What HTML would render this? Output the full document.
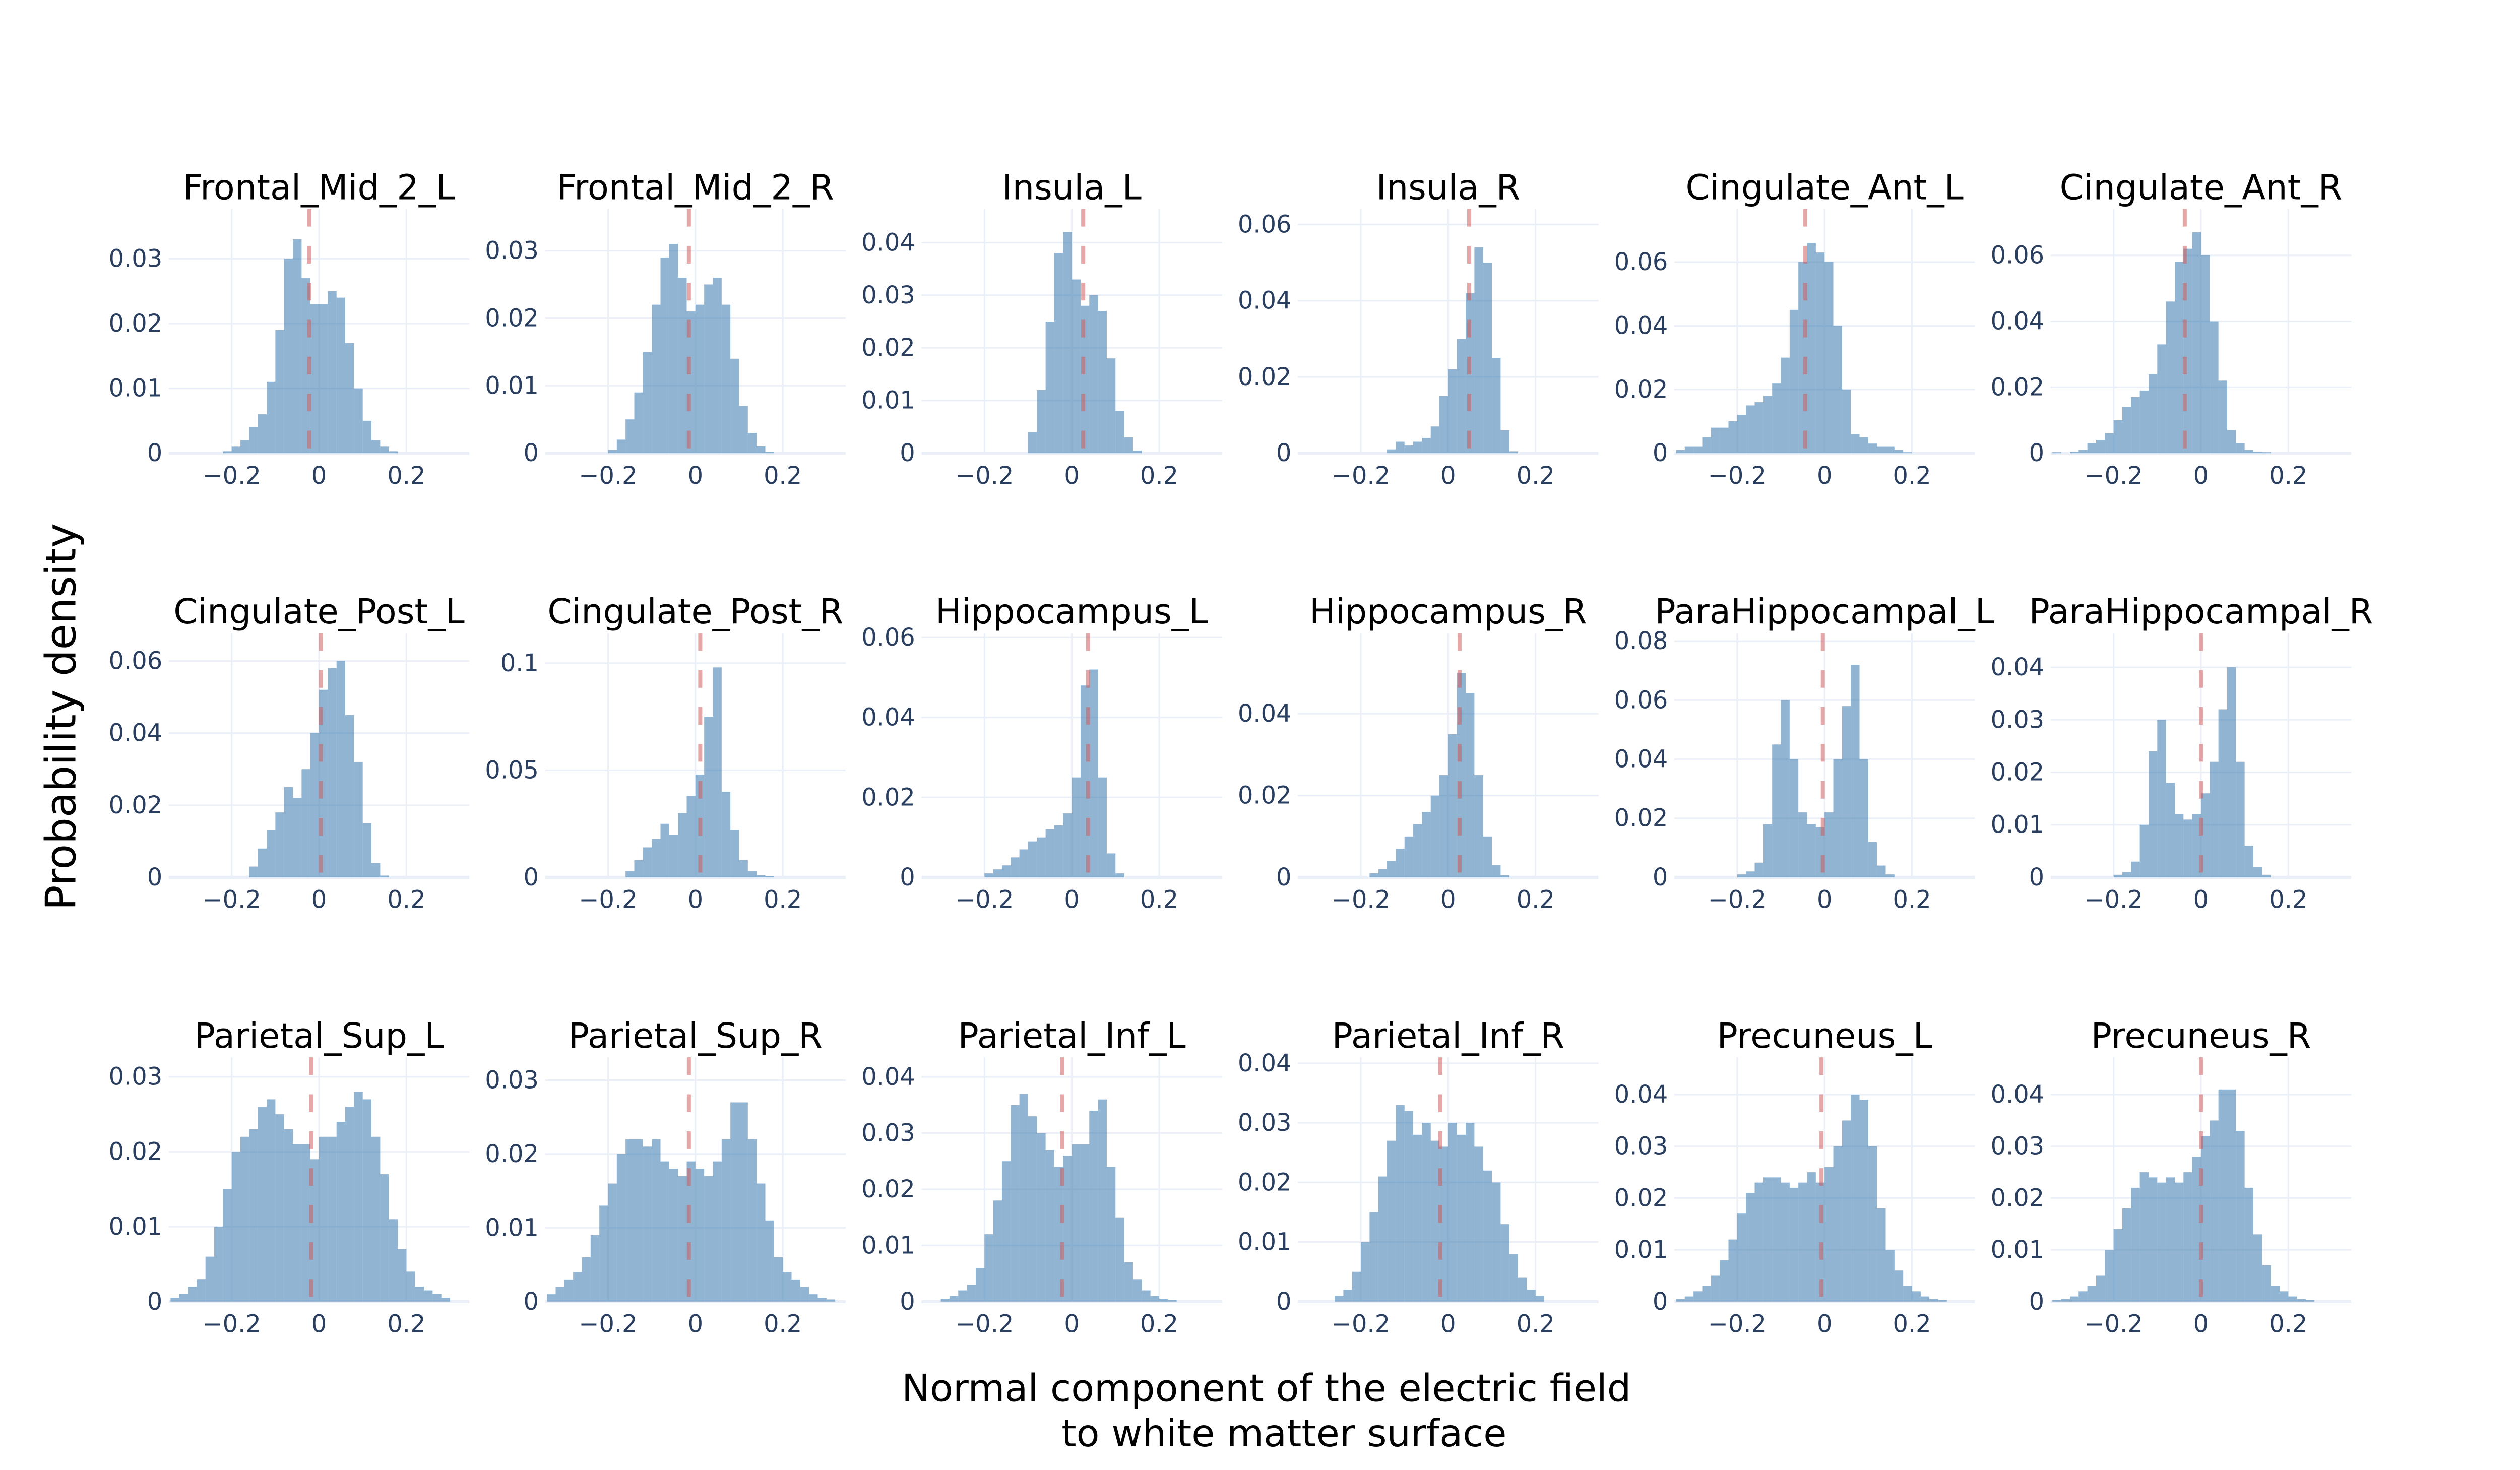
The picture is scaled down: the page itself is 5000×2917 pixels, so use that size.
<!DOCTYPE html>
<html><head><meta charset="utf-8"><style>
html,body{margin:0;padding:0;background:#fff;}
svg{display:block;}
text{font-family:"DejaVu Sans","Liberation Sans",sans-serif;}
</style></head>
<body>
<svg id="chart" width="5000" height="2917" viewBox="0 0 1568 914.8" xmlns="http://www.w3.org/2000/svg">
<rect width="1568" height="914.8" fill="#fff"/>
<text x="38" y="446" transform="rotate(-90 38 446)" text-anchor="middle" dominant-baseline="central" font-size="26" fill="#000">Probability density</text>
<text x="788" y="872" text-anchor="middle" font-size="23.5" fill="#000">Normal component of the electric field</text>
<text x="799" y="900" text-anchor="middle" font-size="23.5" fill="#000">to white matter surface</text>
<g id="panels"></g>
</svg>
<script>
const regionNames = ["Frontal_Mid_2_L","Frontal_Mid_2_R","Insula_L","Insula_R","Cingulate_Ant_L","Cingulate_Ant_R","Cingulate_Post_L","Cingulate_Post_R","Hippocampus_L","Hippocampus_R","ParaHippocampal_L","ParaHippocampal_R","Parietal_Sup_L","Parietal_Sup_R","Parietal_Inf_L","Parietal_Inf_R","Precuneus_L","Precuneus_R"];
const binStart = -0.34;
const binWidth = 0.02;
const density01 = [0,0,0,0,0,0,0.0003,0.001,0.002,0.004,0.006,0.011,0.019,0.030,0.033,0.027,0.023,0.023,0.025,0.024,0.017,0.010,0.005,0.002,0.001,0.0003,0,0,0,0,0,0,0,0];
const density02 = [0,0,0,0,0,0,0,0.0005,0.002,0.005,0.009,0.015,0.022,0.029,0.031,0.026,0.021,0.022,0.025,0.026,0.022,0.014,0.007,0.003,0.001,0.0002,0,0,0,0,0,0,0,0];
const density03 = [0,0,0,0,0,0,0,0,0,0,0,0,0.004,0.012,0.025,0.038,0.042,0.033,0.028,0.030,0.027,0.018,0.008,0.003,0.0005,0,0,0,0,0,0,0,0,0];
const density04 = [0,0,0,0,0,0,0,0,0,0,0.001,0.003,0.002,0.003,0.004,0.007,0.015,0.022,0.030,0.042,0.054,0.050,0.025,0.006,0.0005,0,0,0,0,0,0,0,0,0];
const density05 = [0.001,0.002,0.002,0.005,0.008,0.008,0.010,0.012,0.015,0.016,0.018,0.022,0.030,0.045,0.060,0.066,0.063,0.060,0.040,0.020,0.006,0.005,0.003,0.002,0.002,0.001,0.0003,0,0,0,0,0,0,0];
const density06 = [0.0003,0,0.0005,0.001,0.003,0.004,0.006,0.010,0.014,0.017,0.019,0.024,0.033,0.046,0.058,0.062,0.067,0.060,0.040,0.022,0.007,0.003,0.001,0.0005,0.0003,0,0,0,0,0,0,0,0,0];
const density07 = [0,0,0,0,0,0,0,0,0,0.003,0.008,0.013,0.018,0.025,0.022,0.030,0.040,0.052,0.058,0.060,0.045,0.032,0.015,0.004,0.0005,0,0,0,0,0,0,0,0,0];
const density08 = [0,0,0,0,0,0,0,0,0,0.003,0.008,0.014,0.018,0.025,0.020,0.030,0.038,0.048,0.075,0.098,0.040,0.022,0.008,0.003,0.001,0.0005,0,0,0,0,0,0,0,0];
const density09 = [0,0,0,0,0,0,0,0.001,0.002,0.003,0.005,0.007,0.009,0.010,0.012,0.013,0.016,0.025,0.048,0.052,0.025,0.006,0.001,0,0,0,0,0,0,0,0,0,0,0];
const density10 = [0,0,0,0,0,0,0,0,0.001,0.002,0.004,0.007,0.010,0.013,0.016,0.020,0.025,0.035,0.050,0.045,0.025,0.010,0.003,0.0005,0,0,0,0,0,0,0,0,0,0];
const density11 = [0,0,0,0,0,0,0,0.001,0.002,0.005,0.018,0.045,0.060,0.040,0.022,0.018,0.017,0.022,0.040,0.058,0.072,0.040,0.012,0.004,0.001,0,0,0,0,0,0,0,0,0];
const density12 = [0,0,0,0,0,0,0,0.0005,0.001,0.003,0.010,0.024,0.030,0.018,0.012,0.011,0.012,0.016,0.022,0.032,0.040,0.022,0.006,0.002,0.0005,0,0,0,0,0,0,0,0,0];
const density13 = [0.0005,0.001,0.002,0.003,0.006,0.010,0.015,0.020,0.022,0.023,0.026,0.027,0.025,0.023,0.021,0.021,0.019,0.022,0.022,0.024,0.026,0.028,0.027,0.022,0.017,0.011,0.007,0.004,0.002,0.0015,0.001,0.0005,0,0];
const density14 = [0.001,0.002,0.003,0.004,0.006,0.009,0.013,0.016,0.020,0.022,0.022,0.021,0.022,0.019,0.018,0.017,0.019,0.018,0.017,0.019,0.022,0.027,0.027,0.022,0.016,0.011,0.006,0.004,0.003,0.002,0.001,0.0005,0.0003,0];
const density15 = [0,0,0.0005,0.001,0.002,0.003,0.006,0.012,0.018,0.025,0.035,0.037,0.033,0.030,0.027,0.024,0.026,0.028,0.028,0.034,0.036,0.024,0.015,0.007,0.004,0.002,0.001,0.0005,0.0003,0,0,0,0,0];
const density16 = [0,0,0,0,0.001,0.002,0.005,0.010,0.015,0.021,0.027,0.033,0.032,0.028,0.030,0.027,0.026,0.030,0.028,0.030,0.026,0.022,0.020,0.013,0.008,0.004,0.002,0.001,0,0,0,0,0,0];
const density17 = [0.0005,0.001,0.002,0.003,0.005,0.008,0.012,0.017,0.021,0.023,0.024,0.024,0.023,0.022,0.023,0.025,0.023,0.026,0.030,0.035,0.040,0.039,0.030,0.018,0.010,0.006,0.003,0.002,0.001,0.0005,0.0003,0,0,0];
const density18 = [0.0003,0.0005,0.001,0.002,0.003,0.005,0.010,0.014,0.018,0.022,0.025,0.024,0.023,0.024,0.023,0.025,0.028,0.032,0.035,0.041,0.041,0.033,0.022,0.013,0.007,0.003,0.002,0.001,0.0005,0.0003,0,0,0,0];
const meanValues = [-0.022,-0.015,0.026,0.048,-0.044,-0.037,0.004,0.011,0.037,0.026,-0.004,0,-0.018,-0.015,-0.022,-0.018,-0.007,0];
const yMaxValues = [0.0377,0.0362,0.0464,0.0641,0.0767,0.0741,0.0677,0.114,0.0611,0.0597,0.0827,0.0465,0.0326,0.0331,0.0435,0.041,0.0472,0.0472];
const yTicksA = [0,0.01,0.02,0.03];
const yTicksB = [0,0.01,0.02,0.03,0.04];
const yTicksC = [0,0.02,0.04,0.06];
const yTicksD = [0,0.02,0.04,0.06,0.08];
const yTicksE = [0,0.05,0.1];
const yTicksF = [0,0.02,0.04];
const xTicks = [-0.2,0,0.2];
const xTickLabels = ["\u22120.2","0","0.2"];

const densities = [density01,density02,density03,density04,density05,density06,density07,density08,density09,density10,density11,density12,density13,density14,density15,density16,density17,density18];
const yTicksPerPanel = [yTicksA,yTicksA,yTicksB,yTicksC,yTicksC,yTicksC,yTicksC,yTicksE,yTicksC,yTicksF,yTicksD,yTicksB,yTicksA,yTicksA,yTicksB,yTicksB,yTicksB,yTicksB];

const NS = "http://www.w3.org/2000/svg";
const root = document.getElementById('panels');
const colLeft = [105,339.2,573.4,807.6,1041.8,1276];
const rowBottom = [282,546,810];
const plotW = 187, plotH = 152, xMin = -0.344, xMax = 0.344;
function mk(tag, attrs, parent){const e=document.createElementNS(NS,tag);for(const k in attrs)e.setAttribute(k,attrs[k]);parent.appendChild(e);return e;}
function fmt(v){return v===0?"0":String(v);}

for(let p=0;p<18;p++){
  const c=p%6, r=Math.floor(p/6);
  const x0=colLeft[c], yb=rowBottom[r], yt=yb-plotH;
  const ymax=yMaxValues[p];
  const sx=v=>x0+(v-xMin)/(xMax-xMin)*plotW;
  const sy=v=>yb-v/ymax*plotH;
  const g=mk('g',{},root);
  
  
  xTicks.forEach((t,i)=>{
    const l=mk('line',{x1:sx(t),x2:sx(t),y1:yt,y2:yb,stroke:'#ebf0f8','stroke-width':1},g);
    
    
    const tx=mk('text',{x:sx(t),y:yb+19,'text-anchor':'middle','font-size':15,fill:'#2a3f5f'},g);
    
    
    tx.textContent=xTickLabels[i];
  });
  yTicksPerPanel[p].forEach(t=>{
    const l=mk('line',{x1:x0,x2:x0+plotW,y1:sy(t),y2:sy(t),stroke:'#ebf0f8','stroke-width':t===0?2:1},g);
    
    
    const tx=mk('text',{x:x0-4,y:sy(t)+5,'text-anchor':'end','font-size':15,fill:'#2a3f5f'},g);
    
    
    tx.textContent=fmt(t);
  });
  densities[p].forEach((v,i)=>{
    if(v<=0)return;
    const a=binStart+i*binWidth, b=a+binWidth;
    const xa=Math.max(sx(a),x0), xb=Math.min(sx(b),x0+plotW);
    const bar=mk('rect',{x:xa,y:sy(v),width:xb-xa,height:yb-sy(v),fill:'rgba(70,130,180,0.6)'},g);
    
    
  });
  const ml=mk('line',{x1:sx(meanValues[p]),x2:sx(meanValues[p]),y1:yt,y2:yb,stroke:'rgba(205,92,92,0.55)','stroke-width':2.5,'stroke-dasharray':'11,12'},g);
  
  
  const tt=mk('text',{x:x0+plotW/2,y:yt-6,'text-anchor':'middle','font-size':21.5,fill:'#000'},g);
  
  
  tt.textContent=regionNames[p];
}
</script>
</body></html>
